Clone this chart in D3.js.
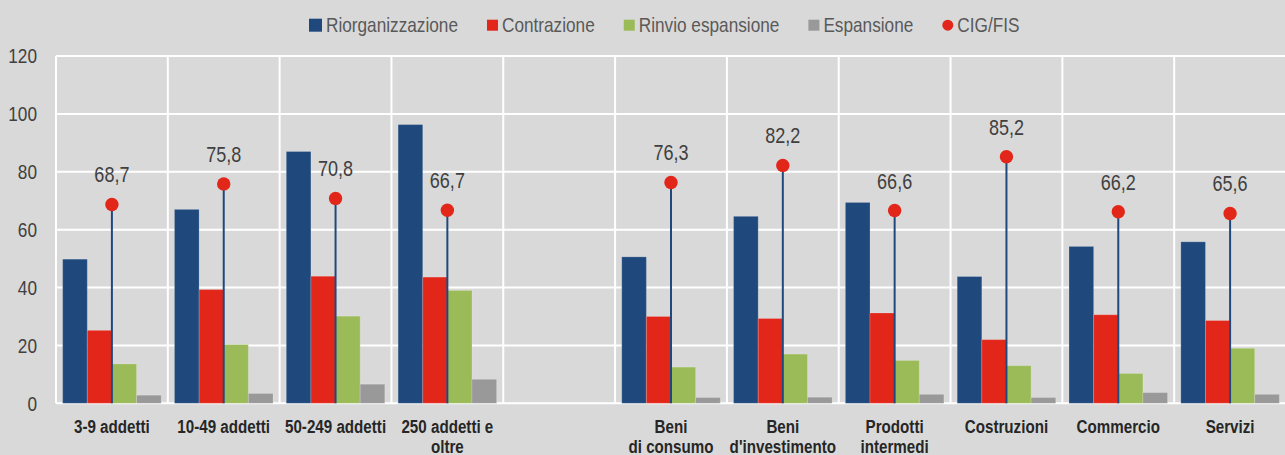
<!DOCTYPE html>
<html>
<head>
<meta charset="utf-8">
<script src="https://cdn.jsdelivr.net/npm/d3@7"></script>
<style>
  html, body { margin: 0; padding: 0; background: #d9d9d9; }
  svg { display: block; }
  text { font-family: "Liberation Sans", Arial, sans-serif; }
</style>
</head>
<body>
<svg id="chart" width="1285" height="455"></svg>
<script>
// ---- data ----
const categories = ["3-9 addetti", "10-49 addetti", "50-249 addetti", "250 addetti e\noltre", "",
  "Beni\ndi consumo", "Beni\nd'investimento", "Prodotti\nintermedi", "Costruzioni", "Commercio", "Servizi"];
const seriesNames = ["Riorganizzazione", "Contrazione", "Rinvio espansione", "Espansione"];
const riorganizzazione = [49.8, 67.0, 87.0, 96.3, null, 50.6, 64.6, 69.4, 43.8, 54.2, 55.8];
const contrazione      = [25.2, 39.3, 43.9, 43.6, null, 30.0, 29.3, 31.2, 22.0, 30.6, 28.6];
const rinvioEspansione = [13.6, 20.3, 30.1, 39.0, null, 12.5, 17.0, 14.8, 13.0, 10.3, 19.0];
const espansione       = [2.8, 3.4, 6.6, 8.3, null, 2.0, 2.1, 3.1, 2.0, 3.7, 3.1];
const cigFis           = [68.7, 75.8, 70.8, 66.7, null, 76.3, 82.2, 66.6, 85.2, 66.2, 65.6];
const cigLabel = "CIG/FIS";
const yTicks = [0, 20, 40, 60, 80, 100, 120];

// ---- styles ----
const colors = ["#1f497d", "#e2271a", "#9bbb59", "#999999"];
const dotColor = "#e2271a";
const lineColor = "#1f497d";
const NARROW = 0.82; // emulate a narrow sans face

const svg = d3.select("#chart");
const mLeft = 56, mRight = 1286, mTop = 56, mBottom = 403.3;

function narrow(sel, ax) {
  sel.attr("transform", `translate(${ax},0) scale(${NARROW},1) translate(${-ax},0)`);
}

const x = d3.scaleBand().domain(d3.range(categories.length)).range([mLeft, mRight]).padding(0);
const xInner = d3.scaleBand().domain(d3.range(seriesNames.length)).range([0, x.bandwidth()]).paddingOuter(0.27).paddingInner(0);
const y = d3.scaleLinear().domain([0, 120]).range([mBottom, mTop]);

// gridlines
const grid = svg.append("g");
grid.selectAll("line.h").data(yTicks).join("line")
  .attr("x1", mLeft).attr("x2", mRight)
  .attr("y1", d => y(d)).attr("y2", d => y(d))
  .attr("stroke", "#ffffff").attr("stroke-width", 2);
grid.selectAll("line.v").data(d3.range(categories.length + 1)).join("line")
  .attr("x1", i => mLeft + i * x.step()).attr("x2", i => mLeft + i * x.step())
  .attr("y1", mTop).attr("y2", mBottom)
  .attr("stroke", "#ffffff").attr("stroke-width", 2);

// y axis labels
const yAxis = d3.axisLeft(y).tickValues(yTicks).tickSize(0).tickPadding(19);
const yg = svg.append("g").attr("transform", `translate(${mLeft},0)`).call(yAxis);
yg.select(".domain").remove();
yg.selectAll("text").attr("font-size", 21).attr("fill", "#404040")
  .style("font-family", '"Liberation Sans", Arial, sans-serif')
  .each(function() { narrow(d3.select(this), -19); });

// bars
const seriesData = [riorganizzazione, contrazione, rinvioEspansione, espansione];
seriesData.forEach((vals, s) => {
  svg.append("g").selectAll("rect").data(vals.map((v, i) => ({v, i})).filter(d => d.v != null)).join("rect")
    .attr("x", d => x(d.i) + xInner(s))
    .attr("width", xInner.bandwidth())
    .attr("y", d => y(d.v))
    .attr("height", d => y(0) - y(d.v))
    .attr("fill", colors[s])
    .attr("stroke", "rgba(255,255,255,0.18)")
    .attr("stroke-width", 1);
});

// lollipop lines & dots
const cig = cigFis.map((v, i) => ({v, i})).filter(d => d.v != null);
const cx = d => x(d.i) + x.bandwidth() / 2;
svg.append("g").selectAll("line").data(cig).join("line")
  .attr("x1", cx).attr("x2", cx)
  .attr("y1", y(0)).attr("y2", d => y(d.v))
  .attr("stroke", lineColor).attr("stroke-width", 2);
svg.append("g").selectAll("circle").data(cig).join("circle")
  .attr("cx", cx).attr("cy", d => y(d.v)).attr("r", 6.7)
  .attr("fill", dotColor);
svg.append("g").selectAll("text").data(cig).join("text")
  .attr("x", cx).attr("y", d => y(d.v) - 22)
  .attr("text-anchor", "middle")
  .attr("font-size", 22).attr("fill", "#404040")
  .text(d => d.v.toFixed(1).replace(".", ","))
  .each(function(d) { narrow(d3.select(this), cx(d)); });

// category labels
const catG = svg.append("g");
categories.forEach((c, i) => {
  const lines = c.split("\n");
  const mx = x(i) + x.bandwidth() / 2;
  const t = catG.append("text")
    .attr("x", mx).attr("y", 433)
    .attr("text-anchor", "middle")
    .attr("font-size", 18.5).attr("font-weight", "bold").attr("fill", "#262626");
  lines.forEach((ln, k) => {
    t.append("tspan").attr("x", mx).attr("dy", k === 0 ? 0 : 20).text(ln);
  });
  narrow(t, mx);
});

// legend
const legendItems = seriesNames.map((n, i) => ({name: n, color: colors[i], type: "rect"}))
  .concat([{name: cigLabel, color: dotColor, type: "dot"}]);
const lg = svg.append("g");
let lx = 309;
const ly = 31.7;
legendItems.forEach((it, i) => {
  const g = lg.append("g");
  if (it.type === "rect") {
    const sz = i === 0 ? 13 : 11;
    g.append("rect").attr("x", lx).attr("y", ly - 6.5 - sz / 2).attr("width", sz).attr("height", sz).attr("fill", it.color);
    lx += sz + 4;
  } else {
    g.append("circle").attr("cx", lx + 5.5).attr("cy", ly - 6.5).attr("r", 5.5).attr("fill", it.color);
    lx += 15;
  }
  const t = g.append("text").attr("x", lx).attr("y", ly).attr("font-size", 21).attr("fill", "#595959").text(it.name);
  narrow(t, lx);
  lx += t.node().getComputedTextLength() * NARROW + 29;
});
</script>
</body>
</html>
